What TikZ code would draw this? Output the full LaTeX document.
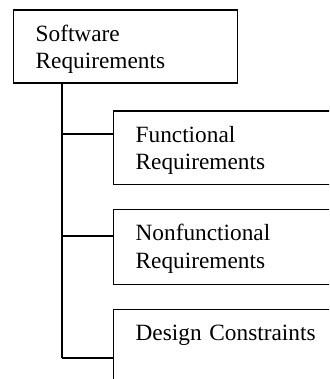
\documentclass[tikz,border=0pt]{standalone}
\usepackage{fontspec}
\setmainfont{Liberation Serif}
\begin{document}
\begin{tikzpicture}[x=1pt,y=-1pt,line width=1.3pt,
      reqbox/.style={draw,anchor=north west,inner xsep=22pt,inner ysep=0pt,
         text height=31pt,text depth=42pt,align=left,
         font=\fontsize{23.3}{27.5}\selectfont}]
   \useasboundingbox (0,0) rectangle (329,379);
   \clip (0,0) rectangle (329,379);
   \node[reqbox,text width=180pt] (sw) at (13,9.5) {Software\\Requirements};
   \node[reqbox,text width=200pt] (func) at (113,110.5) {Functional\\Requirements};
   \node[reqbox,text width=200pt,text depth=44pt] (nonfunc) at (113,209) {Nonfunctional\\Requirements};
   \node[reqbox,text width=200pt] (design) at (113,309) {Design Constraints};
   \coordinate (b1) at (62,134);
   \coordinate (b2) at (62,236);
   \coordinate (b3) at (62,358);
   \draw (sw.south -| b1) -- (b3);
   \draw (b1) -- (b1 -| func.west);
   \draw (b2) -- (b2 -| nonfunc.west);
   \draw (b3) -- (b3 -| design.west);
\end{tikzpicture}
\end{document}
